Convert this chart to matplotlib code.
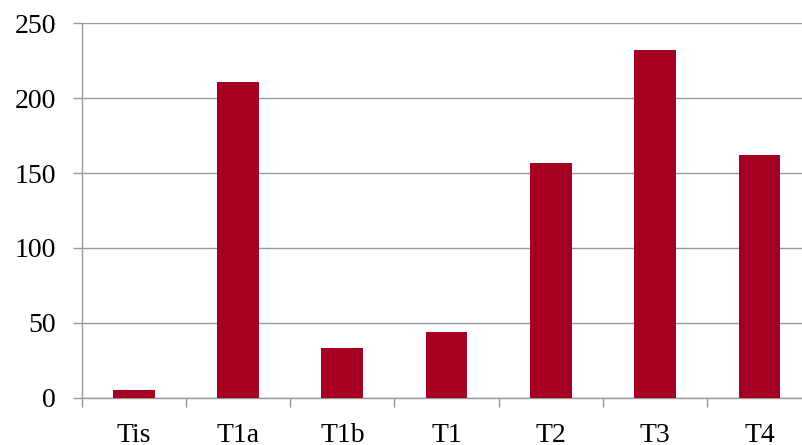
import matplotlib
matplotlib.use("Agg")
import matplotlib.pyplot as plt
import numpy as np

# Data
categories = ["Tis", "T1a", "T1b", "T1", "T2", "T3", "T4"]
values = [5, 211, 33, 44, 157, 232, 162]
y_ticks = [0, 50, 100, 150, 200, 250]

plt.rcParams['font.family'] = ['Liberation Serif', 'DejaVu Serif']

grey = '#999999'
bar_color = '#A50021'

fig = plt.figure(figsize=(8.03, 4.45), dpi=100)
ax = fig.add_axes([0.1017, 0.1067, 0.909, 0.8405])

x = np.arange(len(categories))
ax.bar(x, values, width=0.4, color=bar_color, zorder=3)

ax.set_xlim(-0.5, len(categories) - 0.5)
ax.set_ylim(0, 250)
ax.set_yticks(y_ticks)
ax.yaxis.grid(True, color=grey, linewidth=1.0, zorder=0)

# category ticks sit between the bars
ax.set_xticks(x)
ax.set_xticklabels(categories)
ax.set_xticks(np.arange(len(categories) + 1) - 0.5, minor=True)
ax.tick_params(axis='x', which='major', length=0, pad=18, labelsize=20)
ax.tick_params(axis='x', which='minor', length=6.5, width=1.0, color=grey)
ax.tick_params(axis='y', length=6.5, width=1.0, color=grey, pad=12, labelsize=20)

for side in ['top', 'right']:
    ax.spines[side].set_visible(False)
for side in ['left', 'bottom']:
    ax.spines[side].set_color(grey)
    ax.spines[side].set_linewidth(1.0)

fig.savefig('out.png', dpi=100)
